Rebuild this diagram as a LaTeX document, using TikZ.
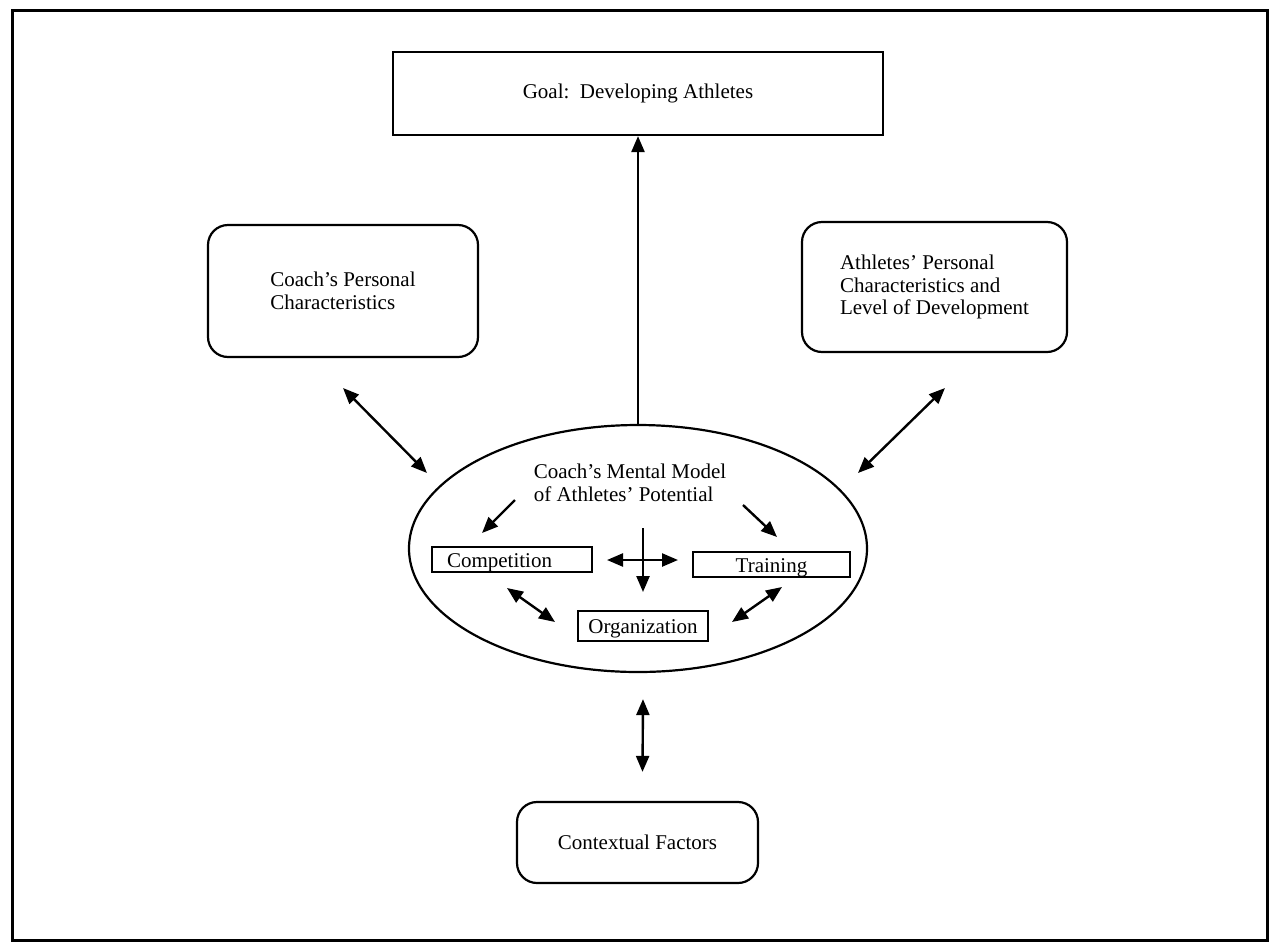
\documentclass[tikz,border=0pt]{standalone}
\usepackage{fontspec}
\setmainfont{Liberation Serif}
\usetikzlibrary{arrows.meta,shapes.geometric}
\begin{document}
\begin{tikzpicture}[x=1pt,y=-1pt,
  every node/.style={font=\fontsize{21}{22.5}\selectfont, inner sep=0pt},
  frame/.style={draw, line width=2.2pt},
  softbox/.style={frame, rounded corners=20pt},
  tag/.style={frame, line width=2pt, text height=17pt, text depth=1pt, inner ysep=3.5pt},
  head/.tip={Triangle[length=16pt,width=13pt]},
  link/.style={line width=2.4pt, -head},
  duplex/.style={line width=2.4pt, head-head},
]
\useasboundingbox (0,0) rectangle (1272,943);
% outer frame
\draw[line width=3pt] (12,10) rectangle (1267,940);

% outer boxes
\node[frame, minimum width=490pt, minimum height=83pt] (goal) at (638,93.5) {Goal:\ \ Developing Athletes};
\node[softbox, minimum width=270pt, minimum height=132pt, align=left] (coach) at (343,291) {Coach's Personal\\Characteristics};
\node[softbox, minimum width=265pt, minimum height=130pt, align=left] (ath) at (934.5,287) {Athletes' Personal\\Characteristics and\\Level of Development};
\node[softbox, minimum width=241pt, minimum height=81pt] (ctx) at (637.5,842.5) {Contextual Factors};

% mental model
\node[draw, ellipse, line width=2.2pt, minimum width=458pt, minimum height=247pt] (ell) at (638,548.5) {};
\node[align=left] (model) at (630,483) {Coach's Mental Model\\of Athletes' Potential};
\node[tag, text width=130pt, inner xsep=15pt, align=left] (comp) at (512,559.5) {Competition};
\node[tag, minimum width=157pt] (train) at (771.5,564.5) {Training};
\node[tag, minimum width=130pt, inner ysep=6pt] (org) at (643,625.5) {Organization};

% free ends of the floating arrows
\coordinate (cA) at (343,388);  \coordinate (cB) at (427,473);
\coordinate (aA) at (945,388);  \coordinate (aB) at (858,473);
\coordinate (m1) at (515,500);  \coordinate (m2) at (482,533);
\coordinate (m3) at (743,505);  \coordinate (m4) at (777,537);
\coordinate (h1) at (607,560);  \coordinate (h2) at (678,560);
\coordinate (v1) at (643,528);  \coordinate (v2) at (643,592);
\coordinate (l1) at (507,588);  \coordinate (l2) at (555,622);
\coordinate (r1) at (782,587);  \coordinate (r2) at (732,622);

% connectors
\draw[link] (ell.north) -- (goal.south);
\draw[duplex] (cA) -- (cB);
\draw[duplex] (aA) -- (aB);
\draw[duplex] ([xshift=5pt,yshift=-26pt]ell.south) -- ([xshift=5pt,yshift=29pt]ctx.north);
\draw[link] (m1) -- (m2);
\draw[link] (m3) -- (m4);
\draw[duplex] (h1) -- (h2);
\draw[link] (v1) -- (v2);
\draw[duplex] (l1) -- (l2);
\draw[duplex] (r1) -- (r2);
\end{tikzpicture}
\end{document}
